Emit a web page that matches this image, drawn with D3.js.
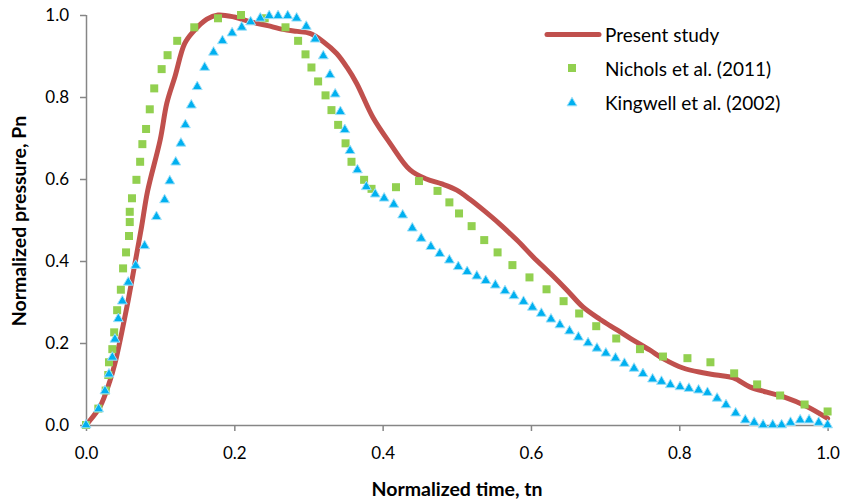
<!DOCTYPE html>
<html><head><meta charset="utf-8">
<script src="https://cdn.jsdelivr.net/npm/d3@7"></script>
<style>body{margin:0;background:#fff}svg{display:block}text{font-family:Lato,"Open Sans",sans-serif}</style>
</head><body><svg id="c" width="841" height="499"></svg>
<script>
// Present study (red line)
const presentT = [0,0.003,0.019,0.032,0.039,0.048,0.057,0.066,0.075,0.083,0.1,0.109,0.12,0.133,0.145,0.163,0.178,0.2,0.221,0.245,0.266,0.285,0.302,0.32,0.338,0.352,0.365,0.387,0.41,0.437,0.459,0.48,0.5,0.518,0.536,0.558,0.581,0.603,0.626,0.648,0.67,0.693,0.716,0.735,0.76,0.78,0.805,0.83,0.85,0.873,0.895,0.918,0.94,0.972,1.0];
const presentP = [0,0.006,0.045,0.106,0.15,0.224,0.305,0.394,0.484,0.57,0.695,0.785,0.85,0.93,0.96,0.99,1.0,0.995,0.984,0.974,0.965,0.96,0.955,0.935,0.906,0.872,0.833,0.75,0.687,0.622,0.6,0.588,0.573,0.55,0.524,0.49,0.451,0.41,0.37,0.33,0.288,0.258,0.232,0.21,0.183,0.16,0.139,0.128,0.122,0.115,0.093,0.08,0.069,0.045,0.016];
// Nichols et al. (2011) (green squares)
const nicholsT = [0,0.0166,0.0265,0.030,0.031,0.0355,0.038,0.042,0.047,0.05,0.054,0.058,0.059,0.059,0.062,0.068,0.073,0.076,0.081,0.086,0.092,0.102,0.11,0.123,0.146,0.178,0.209,0.241,0.269,0.286,0.296,0.304,0.313,0.323,0.331,0.34,0.35,0.358,0.375,0.385,0.418,0.449,0.474,0.49,0.503,0.52,0.537,0.555,0.575,0.598,0.621,0.644,0.665,0.688,0.715,0.747,0.778,0.811,0.842,0.874,0.905,0.936,0.969,1.0];
const nicholsP = [0,0.04,0.084,0.122,0.153,0.185,0.226,0.28,0.33,0.382,0.421,0.461,0.495,0.52,0.553,0.598,0.642,0.685,0.722,0.77,0.821,0.868,0.902,0.937,0.97,0.992,1.0,0.992,0.97,0.937,0.904,0.872,0.838,0.804,0.768,0.732,0.687,0.642,0.598,0.576,0.58,0.595,0.571,0.543,0.516,0.485,0.451,0.421,0.39,0.36,0.331,0.302,0.272,0.241,0.211,0.185,0.167,0.163,0.153,0.126,0.099,0.072,0.05,0.033];
// Kingwell et al. (2002) (blue triangles)
const kingwellT = [0,0.017,0.0256,0.031,0.0355,0.039,0.0436,0.049,0.057,0.067,0.079,0.095,0.106,0.113,0.121,0.128,0.134,0.142,0.15,0.16,0.172,0.184,0.197,0.21,0.222,0.235,0.247,0.259,0.272,0.284,0.297,0.309,0.32,0.329,0.336,0.343,0.349,0.356,0.366,0.378,0.39,0.402,0.415,0.427,0.44,0.452,0.465,0.477,0.49,0.502,0.514,0.527,0.539,0.552,0.565,0.577,0.59,0.602,0.614,0.627,0.639,0.652,0.664,0.677,0.689,0.701,0.714,0.726,0.739,0.751,0.764,0.776,0.788,0.801,0.813,0.826,0.838,0.851,0.863,0.876,0.889,0.901,0.913,0.926,0.938,0.95,0.963,0.975,0.988,1.0];
const kingwellP = [0,0.039,0.083,0.124,0.165,0.209,0.259,0.302,0.348,0.389,0.437,0.508,0.549,0.595,0.641,0.687,0.732,0.78,0.825,0.872,0.909,0.937,0.956,0.97,0.983,0.992,0.998,0.998,0.998,0.992,0.972,0.941,0.9,0.854,0.807,0.764,0.72,0.669,0.622,0.581,0.563,0.553,0.538,0.512,0.48,0.455,0.435,0.418,0.402,0.386,0.374,0.363,0.352,0.341,0.327,0.315,0.301,0.287,0.272,0.258,0.244,0.229,0.214,0.2,0.187,0.175,0.163,0.15,0.138,0.125,0.112,0.106,0.098,0.093,0.089,0.085,0.079,0.065,0.049,0.029,0.012,0.006,0,0,0,0.006,0.012,0.012,0.006,0];
const xTicks = [0,0.2,0.4,0.6,0.8,1.0];
const yTicks = [0,0.2,0.4,0.6,0.8,1.0];
const legendLabels = ["Present study","Nichols et al. (2011)","Kingwell et al. (2002)"];

const svg = d3.select("#c");
const x = d3.scaleLinear().domain([0,1]).range([86,827.6]);
const y = d3.scaleLinear().domain([0,1]).range([425,15]);
const axisColor = "#868686";

// Axes
const gx = svg.append("g").attr("transform","translate(0,425)")
  .call(d3.axisBottom(x).tickValues(xTicks).tickFormat(d3.format(".1f")).tickSize(6).tickPadding(16));
const gy = svg.append("g").attr("transform","translate(86,0)")
  .call(d3.axisLeft(y).tickValues(yTicks).tickFormat(d3.format(".1f")).tickSize(6).tickPadding(11));
[gx,gy].forEach(g=>{
  g.select(".domain").attr("stroke",axisColor).attr("stroke-width",1.5);
  g.selectAll(".tick line").attr("stroke",axisColor).attr("stroke-width",1.5);
  g.selectAll(".tick text").attr("fill","#000").style("font-size","17px").style("font-family","Lato, sans-serif");
});
gx.select(".domain").attr("d","M86,0.5H827.6");
gy.select(".domain").attr("d","M0.5,15V425");

// Titles
svg.append("text").attr("x",457).attr("y",496).attr("text-anchor","middle")
  .style("font-size","19.5px").style("font-weight","bold").text("Normalized time, tn");
svg.append("text").attr("transform","translate(26,221) rotate(-90)").attr("text-anchor","middle")
  .style("font-size","19.5px").style("font-weight","bold").text("Normalized pressure, Pn");

// Present line
const presentData = presentT.map((t,i)=>[t,presentP[i]]);
svg.append("path").datum(presentData)
  .attr("d",d3.line().x(d=>x(d[0])).y(d=>y(d[1])).curve(d3.curveCatmullRom.alpha(0.5)))
  .attr("fill","none").attr("stroke","#C0504D").attr("stroke-width",5).attr("stroke-linejoin","round").attr("stroke-linecap","round");

// Nichols squares
const sq = 8;
svg.append("g").selectAll("rect").data(nicholsT.map((t,i)=>[t,nicholsP[i]])).join("rect")
  .attr("x",d=>x(d[0])-sq/2).attr("y",d=>y(d[1])-sq/2).attr("width",sq).attr("height",sq)
  .attr("fill","#92D050");

// Kingwell triangles
const tri = d3.symbol().type(d3.symbolTriangle).size(42);
svg.append("g").selectAll("path").data(kingwellT.map((t,i)=>[t,kingwellP[i]])).join("path")
  .attr("d",tri).attr("transform",d=>`translate(${x(d[0])},${y(d[1])})`)
  .attr("fill","#00B0F0").attr("stroke","#9fe0f8").attr("stroke-width",1);

// Legend
const lg = svg.append("g");
lg.append("line").attr("x1",547).attr("x2",599).attr("y1",34.5).attr("y2",34.5)
  .attr("stroke","#C0504D").attr("stroke-width",5).attr("stroke-linecap","round");
lg.append("rect").attr("x",568).attr("y",64).attr("width",8).attr("height",8).attr("fill","#92D050");
lg.append("path").attr("d",tri).attr("transform","translate(572,103)").attr("fill","#00B0F0").attr("stroke","#9fe0f8");
[35,69,103].forEach((yy,i)=>{
  lg.append("text").attr("x",605).attr("y",yy).attr("dy","0.35em").style("font-size","19px").text(legendLabels[i]);
});
</script></body></html>
